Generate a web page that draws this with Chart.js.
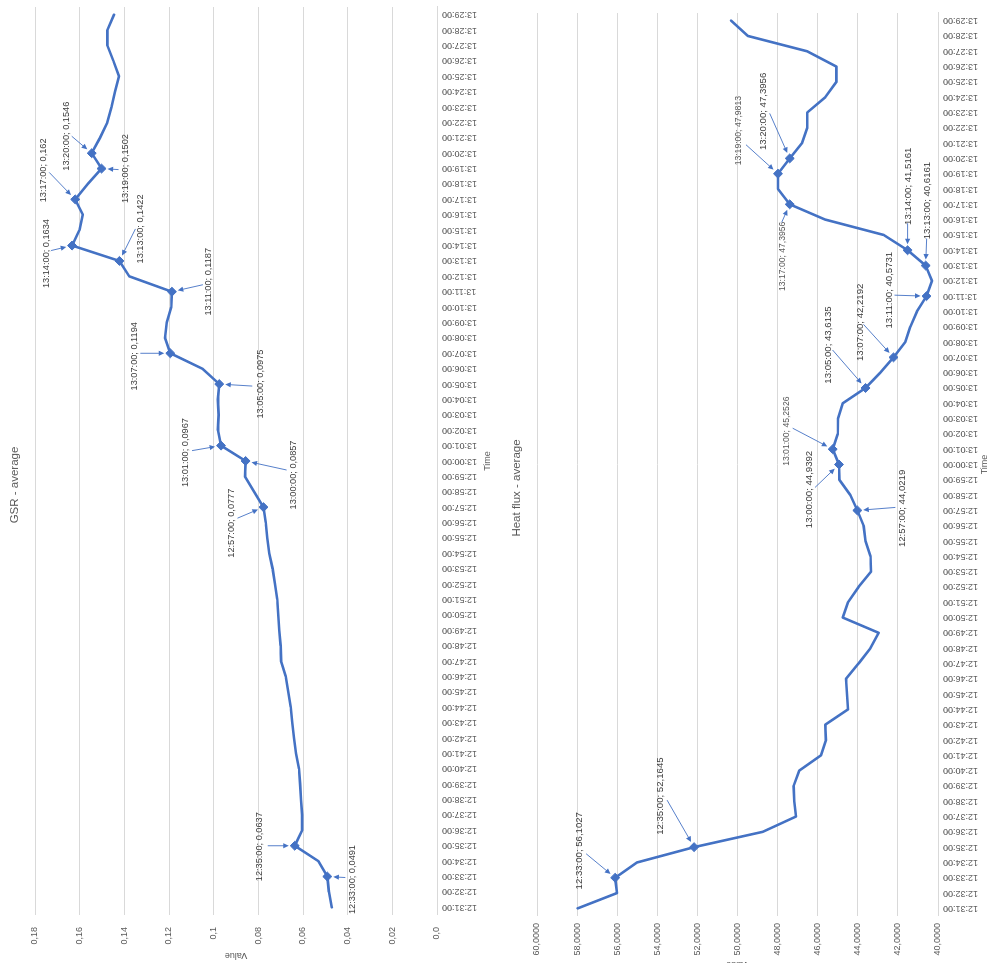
<!DOCTYPE html>
<html>
<head>
<meta charset="utf-8">
<script src="https://cdn.jsdelivr.net/npm/chart.js@4.4.0/dist/chart.umd.min.js"></script>
<style>
  html, body { margin: 0; padding: 0; background: #fff; overflow: hidden; width: 988px; height: 963px; }
  /* both charts are laid out side by side in portrait and turned a quarter turn */
  #stage { position: absolute; left: 0; top: 0; width: 963px; height: 988px; background: #fff;
           transform-origin: 0 0; transform: translateY(963px) rotate(-90deg); }
  #gsr  { position: absolute; left: 0; top: 0; }
  #heat { position: absolute; left: 0; top: 495px; }
</style>
</head>
<body>
<div id="stage">
  <canvas id="gsr" width="963" height="495"></canvas>
  <canvas id="heat" width="963" height="493"></canvas>
</div>
<script>
// ---- data ----
const times = [
  '12:31:00','12:32:00','12:33:00','12:34:00','12:35:00','12:36:00','12:37:00','12:38:00','12:39:00','12:40:00',
  '12:41:00','12:42:00','12:43:00','12:44:00','12:45:00','12:46:00','12:47:00','12:48:00','12:49:00','12:50:00',
  '12:51:00','12:52:00','12:53:00','12:54:00','12:55:00','12:56:00','12:57:00','12:58:00','12:59:00','13:00:00',
  '13:01:00','13:02:00','13:03:00','13:04:00','13:05:00','13:06:00','13:07:00','13:08:00','13:09:00','13:10:00',
  '13:11:00','13:12:00','13:13:00','13:14:00','13:15:00','13:16:00','13:17:00','13:18:00','13:19:00','13:20:00',
  '13:21:00','13:22:00','13:23:00','13:24:00','13:25:00','13:26:00','13:27:00','13:28:00','13:29:00'
];

const gsrValues = [
  0.0471, 0.0484, 0.0491, 0.0531, 0.0637, 0.0604, 0.0604, 0.0609, 0.0613, 0.0618,
  0.0631, 0.0640, 0.0648, 0.0655, 0.0666, 0.0677, 0.0698, 0.0700, 0.0706, 0.0711,
  0.0715, 0.0725, 0.0736, 0.0751, 0.0760, 0.0767, 0.0777, 0.0819, 0.0860, 0.0857,
  0.0967, 0.0981, 0.0978, 0.0981, 0.0975, 0.1051, 0.1194, 0.1218, 0.1210, 0.1190,
  0.1187, 0.1378, 0.1422, 0.1634, 0.1601, 0.1586, 0.1620, 0.1564, 0.1502, 0.1546,
  0.1509, 0.1476, 0.1457, 0.1442, 0.1424, 0.1449, 0.1476, 0.1476, 0.1446
];

const heatValues = [
  57.97, 56.01, 56.1027, 55.01, 52.1645, 48.74, 47.08, 47.17, 47.20, 46.92,
  45.84, 45.59, 45.62, 44.49, 44.54, 44.59, 43.96, 43.37, 42.96, 44.75,
  44.49, 43.96, 43.34, 43.37, 43.62, 43.71, 44.0219, 44.37, 44.92, 44.9392,
  45.2526, 45.00, 44.99, 44.75, 43.6135, 42.88, 42.2192, 41.63, 41.38, 41.05,
  40.5731, 40.30, 40.6161, 41.5161, 42.71, 45.62, 47.3956, 47.98, 47.9813, 47.3956,
  46.78, 46.52, 46.52, 45.62, 45.07, 45.07, 46.53, 49.48, 50.32
];

const gsrTickLabels  = ['0,0', '0,02', '0,04', '0,06', '0,08', '0,1', '0,12', '0,14', '0,16', '0,18'];
const heatTickLabels = ['40,0000', '42,0000', '44,0000', '46,0000', '48,0000', '50,0000',
                        '52,0000', '54,0000', '56,0000', '58,0000', '60,0000'];

// times that carry a diamond marker and a value callout
const gsrMarked  = ['12:33:00','12:35:00','12:57:00','13:00:00','13:01:00','13:05:00','13:07:00',
                    '13:11:00','13:13:00','13:14:00','13:17:00','13:19:00','13:20:00'];
const heatMarked = ['12:33:00','12:35:00','12:57:00','13:00:00','13:01:00','13:05:00','13:07:00',
                    '13:11:00','13:13:00','13:14:00','13:17:00','13:19:00','13:20:00'];

// ---- callout placement (label centre lx/ly and arrow tail ax/ay, relative to the marker) ----
const gsrCallouts = {
  '13:20:00': { lx: 17,  ly: -25, ax: 17,  ay: -20 },
  '13:19:00': { lx: 0,   ly: 24,  ax: -1,  ay: 17 },
  '13:17:00': { lx: 29,  ly: -32, ax: 27,  ay: -26 },
  '13:14:00': { lx: -8,  ly: -26, ax: -5,  ay: -21 },
  '13:13:00': { lx: 32,  ly: 21,  ax: 32,  ay: 16 },
  '13:11:00': { lx: 10,  ly: 37,  ax: 7,   ay: 31 },
  '13:07:00': { lx: -3,  ly: -36, ax: 0,   ay: -30 },
  '13:05:00': { lx: 0,   ly: 41,  ax: -2,  ay: 33 },
  '13:01:00': { lx: -7,  ly: -36, ax: -5,  ay: -29 },
  '13:00:00': { lx: -14, ly: 48,  ax: -9,  ay: 41 },
  '12:57:00': { lx: -16, ly: -32, ax: -11, ay: -26 },
  '12:35:00': { lx: -1,  ly: -35, ax: 0,   ay: -27 },
  '12:33:00': { lx: -3,  ly: 25,  ax: -1,  ay: 18 }
};
const heatCallouts = {
  '13:20:00': { lx: 47,  ly: -26, ax: 45,  ay: -20, size: 9.6 },
  '13:19:00': { lx: 43,  ly: -39, ax: 29,  ay: -32, size: 8.6, color: '#595959' },
  '13:17:00': { lx: -52, ly: -7,  ax: -18, ay: -8,  size: 8.6, color: '#595959' },
  '13:14:00': { lx: 64,  ly: 1,   ax: 27,  ay: 0,   size: 9.6 },
  '13:13:00': { lx: 65,  ly: 2,   ax: 27,  ay: 1,   size: 9.6 },
  '13:11:00': { lx: 6,   ly: -37, ax: 1,   ay: -32, size: 9.6 },
  '13:07:00': { lx: 35,  ly: -33, ax: 33,  ay: -30, size: 9.6 },
  '13:05:00': { lx: 43,  ly: -37, ax: 38,  ay: -33, size: 9.6 },
  '13:01:00': { lx: 18,  ly: -46, ax: 21,  ay: -40, size: 8.6, color: '#595959' },
  '13:00:00': { lx: -25, ly: -30, ax: -23, ay: -24, size: 9.6 },
  '12:57:00': { lx: 2,   ly: 45,  ax: 3,   ay: 38,  size: 9.6 },
  '12:35:00': { lx: 51,  ly: -34, ax: 47,  ay: -27, size: 9.6 },
  '12:33:00': { lx: 27,  ly: -36, ax: 24,  ay: -29, size: 9.6 }
};

// ---- styling ----
const BLUE = '#4472C4';
const GRID = '#d9d9d9';
const AXIS_TEXT = '#595959';
const FONT = '"Liberation Sans", Arial, sans-serif';
const decimalComma = v => String(v).replace('.', ',');

function calloutPlugin(marked, layout) {
  return {
    id: 'callouts',
    afterDatasetsDraw(chart) {
      const ctx = chart.ctx;
      const meta = chart.getDatasetMeta(0);
      const labels = chart.data.labels;
      const values = chart.data.datasets[0].data;
      const GAP = 6;
      ctx.save();
      marked.forEach(t => {
        const i = labels.indexOf(t);
        const p = meta.data[i];
        const c = layout[t];
        // value text
        ctx.font = (c.size || 9.2) + 'px ' + FONT;
        ctx.fillStyle = c.color || '#404040';
        ctx.textAlign = 'center';
        ctx.textBaseline = 'middle';
        ctx.fillText(t + '; ' + decimalComma(values[i]), p.x + c.lx, p.y + c.ly);
        // arrow from the text towards the marker
        const sx = p.x + c.ax, sy = p.y + c.ay;
        const dx = p.x - sx, dy = p.y - sy;
        const len = Math.hypot(dx, dy) || 1;
        const ux = dx / len, uy = dy / len;
        const ex = p.x - ux * GAP, ey = p.y - uy * GAP;
        ctx.strokeStyle = BLUE;
        ctx.lineWidth = 0.9;
        ctx.beginPath();
        ctx.moveTo(sx, sy);
        ctx.lineTo(ex - ux * 4, ey - uy * 4);
        ctx.stroke();
        ctx.fillStyle = BLUE;
        ctx.beginPath();
        ctx.moveTo(ex, ey);
        ctx.lineTo(ex - ux * 5.5 - uy * 2.6, ey - uy * 5.5 + ux * 2.6);
        ctx.lineTo(ex - ux * 5.5 + uy * 2.6, ey - uy * 5.5 - ux * 2.6);
        ctx.closePath();
        ctx.fill();
      });
      ctx.restore();
    }
  };
}

function buildChart(id, cfg) {
  return new Chart(document.getElementById(id), {
    type: 'line',
    data: {
      labels: times,
      datasets: [{
        data: cfg.values,
        borderColor: BLUE,
        backgroundColor: BLUE,
        borderWidth: 2.6,
        borderJoinStyle: 'round',
        borderCapStyle: 'round',
        tension: 0,
        pointStyle: 'rectRot',
        pointRadius: times.map(t => cfg.marked.includes(t) ? 4.5 : 0),
        pointBorderWidth: 1,
        pointBorderColor: BLUE,
        pointBackgroundColor: BLUE
      }]
    },
    options: {
      responsive: false,
      animation: false,
      devicePixelRatio: 1,
      events: [],
      layout: { padding: { left: 0, right: cfg.padRight, top: 0, bottom: 0 } },
      plugins: {
        legend: { display: false },
        tooltip: { enabled: false },
        title: {
          display: true,
          text: cfg.title,
          color: AXIS_TEXT,
          font: { family: FONT, size: 11.5, weight: 'normal' },
          padding: { top: cfg.titleTop, bottom: cfg.titleBottom }
        }
      },
      scales: {
        x: {
          type: 'category',
          offset: true,
          grid: { display: false, drawTicks: false },
          border: { display: true, color: GRID, width: 1 },
          ticks: {
            autoSkip: false, minRotation: 90, maxRotation: 90, padding: 5,
            color: AXIS_TEXT, font: { family: FONT, size: 9 }
          },
          title: {
            display: true, text: 'Time', color: AXIS_TEXT,
            font: { family: FONT, size: 9 },
            padding: { top: 0, bottom: cfg.timePad }
          },
          afterFit: s => { s.height = cfg.xHeight; s.paddingLeft = 0; s.paddingRight = 0; }
        },
        y: {
          min: cfg.min, max: cfg.max,
          grid: { color: GRID, lineWidth: 1, drawTicks: false },
          border: { display: false },
          ticks: {
            stepSize: cfg.step, padding: cfg.tickPad,
            color: AXIS_TEXT, font: { family: FONT, size: 9 },
            callback: (v, i) => cfg.tickLabels[i]
          },
          title: {
            display: true, text: 'Value', color: AXIS_TEXT,
            font: { family: FONT, size: 9 },
            padding: { top: cfg.valuePad, bottom: 0 }
          },
          afterFit: s => { s.width = cfg.yWidth; }
        }
      }
    },
    plugins: [calloutPlugin(cfg.marked, cfg.callouts)]
  });
}

buildChart('gsr', {
  title: 'GSR - average',
  values: gsrValues, marked: gsrMarked, callouts: gsrCallouts,
  min: 0, max: 0.18, step: 0.02, tickLabels: gsrTickLabels,
  padRight: 7, titleTop: 8.1, titleBottom: 13.1,
  xHeight: 58, timePad: 1.6, yWidth: 48, tickPad: 12, valuePad: 2.6
});

buildChart('heat', {
  title: 'Heat flux - average',
  values: heatValues, marked: heatMarked, callouts: heatCallouts,
  min: 40, max: 60, step: 2, tickLabels: heatTickLabels,
  padRight: 13, titleTop: 15.1, titleBottom: 13.1,
  xHeight: 50, timePad: -2.4, yWidth: 47, tickPad: 7, valuePad: -6.4
});
</script>
</body>
</html>
